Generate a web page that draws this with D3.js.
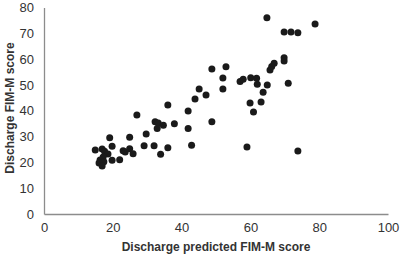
<!DOCTYPE html>
<html>
<head>
<meta charset="utf-8">
<script src="https://cdn.jsdelivr.net/npm/d3@7"></script>
<style>
  body { margin: 0; background: #fff; }
  svg { display: block; }
  .tick text { font-family: "Liberation Sans", Arial, sans-serif; font-size: 13px; fill: #333; }
  .title { font-family: "Liberation Sans", Arial, sans-serif; font-size: 12px; font-weight: bold; fill: #333; }
</style>
</head>
<body>
<div id="chart"></div>
<script>
const predicted = [
  14.9, 16.9, 17.6, 18.6, 17.2, 16.3, 17.4, 16.0, 16.9,
  19.1, 19.8, 19.8, 22.0, 23.0, 23.6, 24.9, 25.9, 24.9,
  29.1, 29.7, 27.0, 32.3, 33.2, 34.7, 32.9, 37.9, 41.9,
  32.0, 36.0, 33.9, 42.9, 36.0, 41.9, 43.9, 45.1, 47.1,
  48.8, 52.9, 52.0, 52.0, 48.8, 59.0, 57.0, 57.9, 60.1,
  61.8, 62.0, 64.9, 63.7, 59.9, 63.1, 60.9, 65.7, 66.2,
  66.9, 69.8, 69.8, 71.0, 64.8, 69.8, 71.8, 73.8, 78.8, 73.8
];
const discharge = [
  24.8, 25.2, 24.3, 23.2, 22.1, 20.9, 20.2, 19.8, 18.6,
  29.5, 26.2, 20.8, 21.0, 24.5, 24.0, 25.3, 23.3, 29.7,
  26.4, 31.0, 38.4, 35.7, 35.3, 34.4, 33.1, 35.0, 33.1,
  26.4, 25.7, 23.1, 26.6, 42.2, 39.9, 44.6, 48.4, 46.1,
  56.2, 57.0, 52.7, 48.4, 35.7, 26.0, 51.3, 52.2, 52.8,
  52.6, 50.3, 50.0, 47.2, 43.0, 43.4, 39.5, 55.8, 57.1,
  58.4, 60.5, 59.3, 50.7, 76.0, 70.5, 70.5, 70.2, 73.6, 24.4
];
const xTicks = [0, 20, 40, 60, 80, 100];
const yTicks = [0, 10, 20, 30, 40, 50, 60, 70, 80];

const data = predicted.map((p, i) => ({ x: p, y: discharge[i] }));

const svgWidth = 400, svgHeight = 256;
const margin = { top: 7.5, right: 12, bottom: 42, left: 44 };
const width = svgWidth - margin.left - margin.right;
const height = svgHeight - margin.top - margin.bottom;

const svg = d3.select("#chart").append("svg")
  .attr("width", svgWidth)
  .attr("height", svgHeight);

const g = svg.append("g")
  .attr("transform", `translate(${margin.left},${margin.top})`);

const x = d3.scaleLinear().domain([0, 100]).range([0, width]);
const y = d3.scaleLinear().domain([0, 80]).range([height, 0]);

// axes: plain gray lines, no tick marks
g.append("g")
  .attr("transform", `translate(0,${height})`)
  .call(d3.axisBottom(x).tickValues(xTicks).tickSize(0).tickPadding(9))
  .call(a => a.select(".domain").attr("stroke", "#8c8c8c").attr("stroke-width", 1.3));

g.append("g")
  .call(d3.axisLeft(y).tickValues(yTicks).tickSize(0).tickPadding(10))
  .call(a => a.select(".domain").attr("stroke", "#8c8c8c").attr("stroke-width", 1.3));

g.selectAll(".dot")
  .data(data)
  .enter().append("circle")
  .attr("class", "dot")
  .attr("cx", d => x(d.x))
  .attr("cy", d => y(d.y))
  .attr("r", 3.5)
  .attr("fill", "#1a1a1a");

svg.append("text")
  .attr("class", "title")
  .attr("x", 216)
  .attr("y", 251)
  .attr("text-anchor", "middle")
  .text("Discharge predicted FIM-M score");

svg.append("text")
  .attr("class", "title")
  .attr("transform", "translate(14,108) rotate(-90)")
  .attr("text-anchor", "middle")
  .text("Discharge FIM-M score");
</script>
</body>
</html>
